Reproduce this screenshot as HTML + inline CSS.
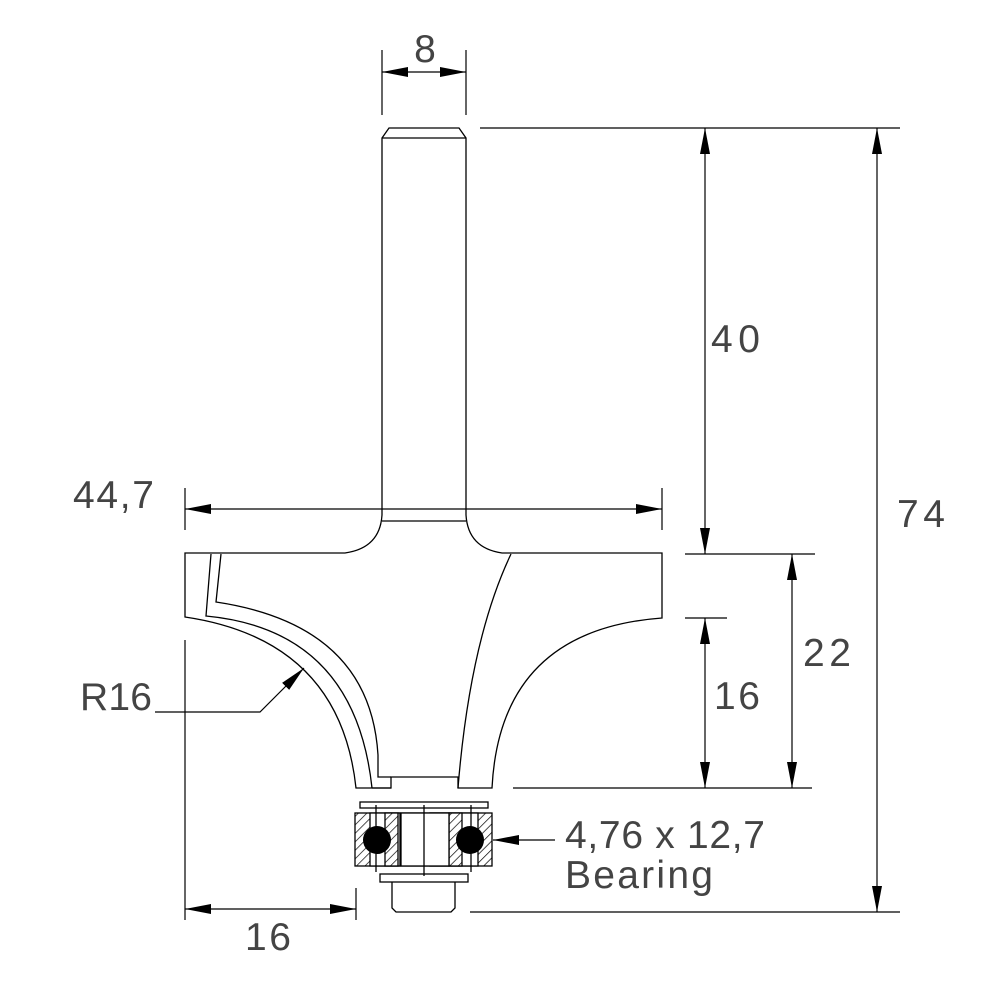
<!DOCTYPE html>
<html><head><style>body{margin:0;background:#fff}svg{display:block}</style></head><body>
<svg width="1000" height="1000" viewBox="0 0 1000 1000" xmlns="http://www.w3.org/2000/svg">
<defs>
<marker id="a" viewBox="0 0 26 10" refX="26" refY="5" markerWidth="26" markerHeight="10" markerUnits="userSpaceOnUse" orient="auto-start-reverse"><path d="M0,0 L26,5 L0,10 Z" fill="#000"/></marker>
<pattern id="h" width="6" height="6" patternUnits="userSpaceOnUse" patternTransform="rotate(45)"><rect width="6" height="6" fill="#fff"/><line x1="0" y1="0" x2="0" y2="6" stroke="#000" stroke-width="1.4"/></pattern>
</defs>
<g fill="none" stroke="#000" stroke-width="1.3">
<path d="M382,138 L389,128 L459,128 L466,138 L466,515 Q468,548 502,553 L662,553 L662,618 Q500,630 492,788 L458,788 L458,777 L391,777 L391,788 L356,788 Q340,640 185,617 L185,553 L345,553 Q380,548 382,515 Z"/>
<line x1="382" y1="138" x2="466" y2="138"/>
<line x1="382" y1="521" x2="466" y2="521"/>
<path d="M511,554 Q470,640 458,788"/>
<path d="M211,554 L206,616 Q355,630 372,788"/>
<path d="M221,554 L216,602 Q370,625 378,755 L378,777 L391,777"/>
<line x1="372" y1="788" x2="391" y2="788"/>
<rect x="360" y="802" width="128" height="6"/>
<rect x="355" y="813" width="137" height="53" fill="url(#h)"/>
<rect x="370" y="813" width="30" height="53" fill="#fff"/>
<rect x="430" y="813" width="48" height="53" fill="#fff"/>
<rect x="385" y="813" width="13" height="53" fill="url(#h)"/>
<rect x="449" y="813" width="13" height="53" fill="url(#h)"/>
<rect x="401" y="813" width="48" height="53" fill="#fff"/>
<line x1="376" y1="805" x2="376" y2="872"/><line x1="471" y1="805" x2="471" y2="872"/>
<line x1="424" y1="805" x2="424" y2="876"/>
<rect x="380" y="874" width="88" height="8"/>
<path d="M392,882 L392,908 L396,912 L451,912 L455,908 L455,882"/>
</g>
<circle cx="377" cy="840" r="14" fill="#000"/>
<circle cx="470" cy="840" r="14" fill="#000"/>
<g stroke="#000" stroke-width="1.2" fill="none">
<line x1="382" y1="50" x2="382" y2="115"/><line x1="466" y1="50" x2="466" y2="115"/>
<line x1="382" y1="72" x2="466" y2="72" marker-start="url(#a)" marker-end="url(#a)"/>
<line x1="480" y1="128" x2="900" y2="128"/>
<line x1="705" y1="128" x2="705" y2="554" marker-start="url(#a)" marker-end="url(#a)"/>
<line x1="877" y1="128" x2="877" y2="912" marker-start="url(#a)" marker-end="url(#a)"/>
<line x1="470" y1="912" x2="900" y2="912"/>
<line x1="685" y1="554" x2="815" y2="554"/>
<line x1="685" y1="618" x2="727" y2="618"/>
<line x1="513" y1="788" x2="812" y2="788"/>
<line x1="705" y1="618" x2="705" y2="788" marker-start="url(#a)" marker-end="url(#a)"/>
<line x1="792" y1="554" x2="792" y2="788" marker-start="url(#a)" marker-end="url(#a)"/>
<line x1="185" y1="488" x2="185" y2="530"/><line x1="662" y1="488" x2="662" y2="530"/>
<line x1="185" y1="509" x2="662" y2="509" marker-start="url(#a)" marker-end="url(#a)"/>
<line x1="185" y1="640" x2="185" y2="920"/><line x1="356" y1="888" x2="356" y2="920"/>
<line x1="185" y1="909" x2="356" y2="909" marker-start="url(#a)" marker-end="url(#a)"/>
<path d="M155,712 L260,712 L304,668" marker-end="url(#a)"/>
<line x1="555" y1="840" x2="493" y2="840" marker-end="url(#a)"/>
</g>
<g font-family="Liberation Sans, sans-serif" font-size="39" fill="#444">
<text x="425" y="62" text-anchor="middle">8</text>
<text x="711" y="352" textLength="49">40</text>
<text x="897" y="527" textLength="48">74</text>
<text x="803" y="666" textLength="48">22</text>
<text x="714" y="709" textLength="46">16</text>
<text x="73" y="508" textLength="81">44,7</text>
<text x="80" y="710" textLength="72">R16</text>
<text x="245" y="950" textLength="46">16</text>
<text x="565" y="848" textLength="200">4,76 x 12,7</text>
<text x="565" y="888" textLength="148">Bearing</text>
</g>
</svg>
</body></html>
